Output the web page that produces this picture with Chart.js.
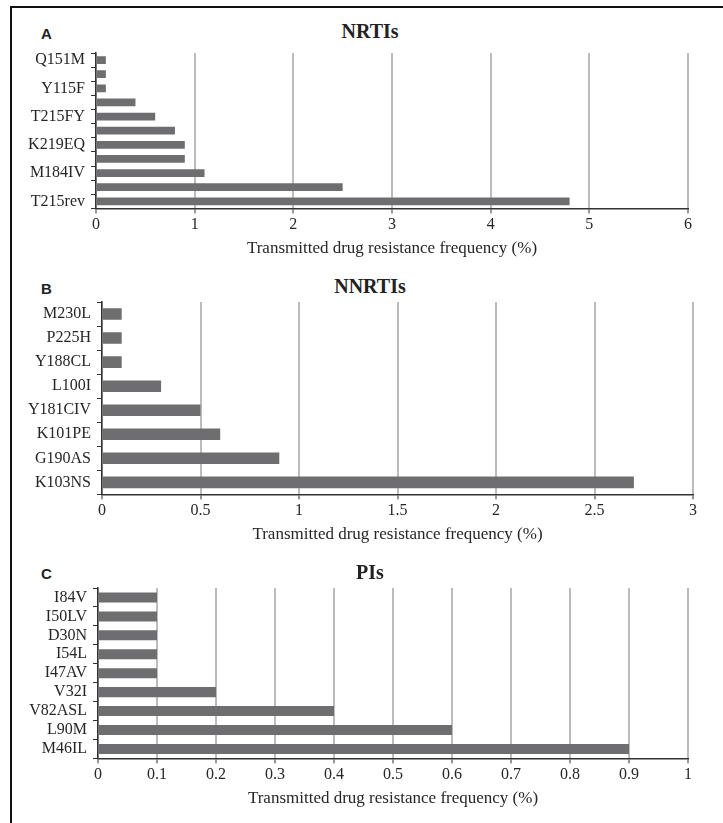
<!DOCTYPE html>
<html lang="en">
  <head>
    <meta charset="UTF-8" />
    <title>Transmitted drug resistance mutations</title>
    <script src="https://cdn.jsdelivr.net/npm/chart.js"></script>
    <style>
      body {
        margin: 0;
        width: 723px;
        height: 823px;
        background: #fff;
        position: relative;
        overflow: hidden;
      }
      .frame {
        position: absolute;
        left: 10px;
        top: 6px;
        right: -4px;
        bottom: -4px;
        border-top: 2px solid #111;
        border-left: 2px solid #111;
      }
      .panel {
        position: absolute;
        left: 0;
        width: 723px;
      }
      .letter {
        position: absolute;
        left: 41px;
        font: bold 15px "Liberation Sans", Arial, sans-serif;
        line-height: 1;
        color: #222;
      }
      .title {
        position: absolute;
        left: 270px;
        width: 200px;
        text-align: center;
        font: bold 20px "Liberation Serif", "Times New Roman", serif;
        line-height: 1;
        color: #222;
      }
    </style>
  </head>
  <body>
    <div class="frame"></div>

    <div class="letter" style="top: 26px">A</div>
    <div class="title" style="top: 21px">NRTIs</div>
    <div class="panel" style="top: 0; height: 261px">
      <canvas id="nrtiChart"></canvas>
    </div>

    <div class="letter" style="top: 281px">B</div>
    <div class="title" style="top: 276px">NNRTIs</div>
    <div class="panel" style="top: 262px; height: 285px">
      <canvas id="nnrtiChart"></canvas>
    </div>

    <div class="letter" style="top: 566px">C</div>
    <div class="title" style="top: 562px">PIs</div>
    <div class="panel" style="top: 546px; height: 265px">
      <canvas id="piChart"></canvas>
    </div>

    <script>
      // NRTI mutations (every other category is unlabelled)
      const nrtiLabels = ["Q151M", "", "Y115F", "", "T215FY", "", "K219EQ", "", "M184IV", "", "T215rev"];
      const nrtiValues = [0.1, 0.1, 0.1, 0.4, 0.6, 0.8, 0.9, 0.9, 1.1, 2.5, 4.8];

      // NNRTI mutations
      const nnrtiLabels = ["M230L", "P225H", "Y188CL", "L100I", "Y181CIV", "K101PE", "G190AS", "K103NS"];
      const nnrtiValues = [0.1, 0.1, 0.1, 0.3, 0.5, 0.6, 0.9, 2.7];

      // protease inhibitor mutations
      const piLabels = ["I84V", "I50LV", "D30N", "I54L", "I47AV", "V32I", "V82ASL", "L90M", "M46IL"];
      const piValues = [0.1, 0.1, 0.1, 0.1, 0.1, 0.2, 0.4, 0.6, 0.9];

      const axisTitle = "Transmitted drug resistance frequency (%)";

      const serif = "'Liberation Serif', 'Times New Roman', serif";
      const textColor = "#262626";
      const barColor = "#6e6e70";

      function makePanel(id, labels, values, opts) {
        const ctx = document.getElementById(id).getContext("2d");
        return new Chart(ctx, {
          type: "bar",
          data: {
            labels: labels,
            datasets: [
              {
                data: values,
                backgroundColor: barColor,
                borderWidth: 0,
                barPercentage: opts.bar,
                categoryPercentage: 1,
              },
            ],
          },
          options: {
            indexAxis: "y",
            responsive: true,
            maintainAspectRatio: false,
            animation: false,
            layout: {
              padding: { top: opts.top, right: opts.right, bottom: 2, left: 0 },
            },
            plugins: {
              legend: { display: false },
              tooltip: { enabled: false },
            },
            scales: {
              x: {
                min: 0,
                max: opts.max,
                ticks: {
                  stepSize: opts.step,
                  color: textColor,
                  padding: 2,
                  font: { family: serif, size: 16 },
                  // plain numbers: 1 rather than 1.0
                  callback: (v) => String(Math.round(v * 10) / 10),
                },
                grid: {
                  color: "#bcbcbc",
                  lineWidth: 2,
                  tickLength: 5,
                  tickColor: "#333",
                  tickWidth: 1,
                },
                border: { color: "#333", width: 1.5 },
                title: {
                  display: true,
                  text: axisTitle,
                  color: textColor,
                  padding: { top: 2, bottom: 0 },
                  font: { family: serif, size: 17 },
                },
              },
              y: {
                afterFit: (scale) => {
                  scale.width = opts.axis;
                },
                ticks: {
                  autoSkip: false,
                  color: textColor,
                  padding: 6,
                  font: { family: serif, size: 16 },
                },
                grid: {
                  offset: true,
                  drawOnChartArea: false,
                  tickLength: 5,
                  tickColor: "#333",
                  tickWidth: 1,
                },
                border: { color: "#333", width: 1.5 },
              },
            },
          },
        });
      }

      makePanel("nrtiChart", nrtiLabels, nrtiValues, {
        max: 6, step: 1, axis: 96, top: 53, right: 35, bar: 0.55,
      });
      makePanel("nnrtiChart", nnrtiLabels, nnrtiValues, {
        max: 3, step: 0.5, axis: 102, top: 40, right: 30, bar: 0.48,
      });
      makePanel("piChart", piLabels, piValues, {
        max: 1, step: 0.1, axis: 98, top: 42, right: 35, bar: 0.53,
      });
    </script>
  </body>
</html>
